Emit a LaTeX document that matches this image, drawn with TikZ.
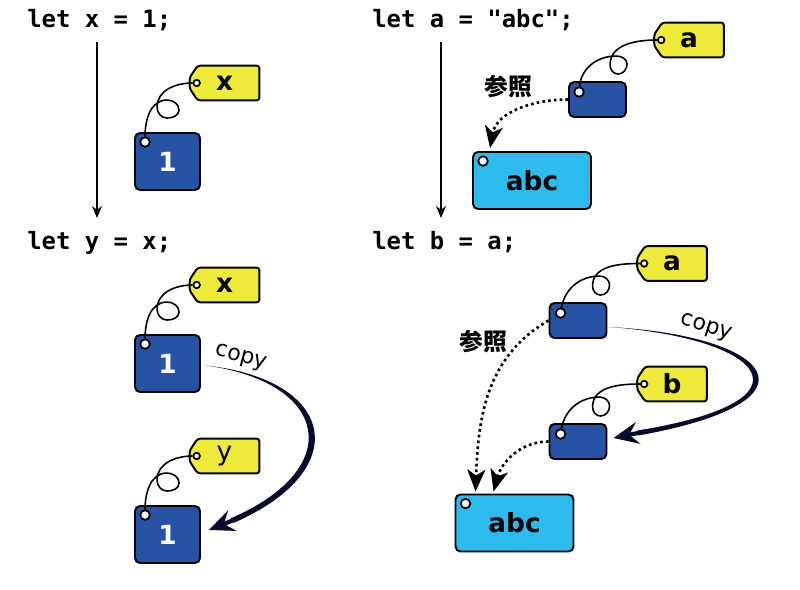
\documentclass[tikz,border=0pt]{standalone}
\usepackage{fontspec}
\setmainfont{DejaVu Sans}
\newfontfamily\codefont{DejaVu Sans Mono}
\newfontfamily\cjkfont{Noto Sans CJK JP}
\usepackage{tikz}
\usetikzlibrary{arrows.meta,calc,backgrounds}
\definecolor{tagyellow}{RGB}{238,234,58}
\definecolor{boxblue}{RGB}{38,83,163}
\definecolor{strcyan}{RGB}{44,187,236}
\definecolor{copynavy}{RGB}{10,10,42}

\begin{document}
\begin{tikzpicture}[x=0.02cm, y=-0.02cm,
     code/.style = {anchor=base west, inner sep=0pt,
                    font=\codefont\bfseries\fontsize{13.6}{16}\selectfont},
   varbox/.style = {draw, line width=1.1pt, rounded corners=0.1cm, fill=boxblue,
                    text=white, minimum width=1.3cm, minimum height=1.14cm,
                    font=\bfseries\fontsize{15}{17}\selectfont},
   refbox/.style = {varbox, minimum width=1.14cm, minimum height=0.7cm},
   strbox/.style = {varbox, fill=strcyan, text=black, minimum width=2.36cm,
                    font=\bfseries\fontsize{15}{17}\selectfont},
  nametag/.style = {rectangle, minimum width=1.38cm, minimum height=0.68cm,
                    inner sep=0pt, font=\bfseries\fontsize{15}{17}\selectfont},
  tagline/.style = {draw, line width=1.1pt, rounded corners=1.5pt, fill=tagyellow},
     hole/.style = {circle, draw, line width=1pt, fill=white, inner sep=0pt,
                    minimum size=0.19cm},
  taghole/.style = {hole, minimum size=0.13cm},
   string/.style = {line width=0.9pt},
 timeline/.style = {line width=0.6pt, -{Stealth[length=0.24cm,width=0.2cm]}},
 refarrow/.style = {line width=1.5pt, dash pattern=on 1.5pt off 1.8pt,
                    -{Stealth[length=0.44cm,width=0.36cm,inset=0.12cm]}},
 copyline/.style = {fill=copynavy},
 copyhead/.style = {draw=copynavy, line width=2.4pt,
                    -{Stealth[length=0.5cm,width=0.44cm,inset=0.18cm]}},
copylabel/.style = {font=\fontsize{12.5}{14}\selectfont, inner sep=0pt},
 reflabel/.style = {font=\cjkfont\bfseries\fontsize{13.5}{15}\selectfont, inner sep=0pt}
                    ]
\useasboundingbox (0,0) rectangle (800,590);

% code lines
\node[code] (c1) at (27,28)  {let x = 1;};
\node[code] (c2) at (372,28) {let a = "abc";};
\node[code] (c3) at (27,250) {let y = x;};
\node[code] (c4) at (372,250) {let b = a;};

\coordinate (l1s) at (97,42);  \coordinate (l1e) at (97,218);
\coordinate (l2s) at (441,42); \coordinate (l2e) at (441,218);
\draw[timeline] (l1s) -- (l1e);
\draw[timeline] (l2s) -- (l2e);

% let x = 1
\node[nametag] (tx1) at (224.5,83) {x};
\node[varbox]  (v1)  at (167.5,161.5) {1};
\node[hole]    (hv1) at ($(v1.north west)+(11,10)$) {};
\node[taghole] (ht1) at ($(tx1.west)+(7,0)$) {};
\draw[string] (hv1) to[out=90,in=180] ++(22,-42) to[out=0,in=90] ++(12,10)
    to[out=-90,in=0] ++(-12,8) to[out=180,in=-90] ++(-10,-11)
    to[out=90,in=180] (ht1);

% let a = "abc"
\node[nametag] (ta1) at (689,40) {a};
\node[refbox]  (r1)  at (597.5,99.5) {};
\node[strbox]  (s1)  at (532,180.5) {abc};
\node[hole]    (hr1) at ($(r1.north west)+(11,11)$) {};
\node[hole]    (hs1) at ($(s1.north west)+(11,10)$) {};
\node[taghole] (ht2) at ($(ta1.west)+(7,0)$) {};
\draw[string] (hr1) to[out=85,in=180] ++(37,-36) to[out=0,in=90] ++(11,8)
    to[out=-90,in=0] ++(-9,10) to[out=180,in=-90] ++(-8,-9)
    to[out=90,in=180] (ht2);
\coordinate (st1) at ($(s1.north west)+(18,-3)$);
\draw[refarrow] (r1.west) to[out=180,in=80] (st1);
\node[reflabel] (k1) at (508,87) {参照};

% let y = x
\node[nametag] (tx2) at (224.5,285) {x};
\node[varbox]  (v2)  at (167.5,363.5) {1};
\node[nametag, font=\fontsize{15}{17}\selectfont] (ty) at (224.5,456) {y};
\node[varbox]  (v3)  at (167.5,534.5) {1};
\node[hole]    (hv2) at ($(v2.north west)+(11,10)$) {};
\node[hole]    (hv3) at ($(v3.north west)+(11,10)$) {};
\node[taghole] (ht3) at ($(tx2.west)+(7,0)$) {};
\node[taghole] (ht4) at ($(ty.west)+(7,0)$) {};
\draw[string] (hv2) to[out=90,in=180] ++(22,-42) to[out=0,in=90] ++(12,10)
    to[out=-90,in=0] ++(-12,8) to[out=180,in=-90] ++(-10,-11)
    to[out=90,in=180] (ht3);
\draw[string] (hv3) to[out=90,in=180] ++(22,-42) to[out=0,in=90] ++(12,10)
    to[out=-90,in=0] ++(-12,8) to[out=180,in=-90] ++(-10,-11)
    to[out=90,in=180] (ht4);
\coordinate (ce1) at ($(v3.east)+(31,-13.8)$);
\coordinate (cp1) at ($(v3.east)+(8,-4.5)$);
\fill[copyline] ($(v2.east)+(5,2)$) .. controls +(130,14) and +(122,-53) .. ($(ce1)+(1.2,2.4)$)
    -- ($(ce1)+(-1.2,-2.4)$) .. controls +(116,-50) and +(123,17) .. ($(v2.east)+(5,2)$) -- cycle;
\draw[copyhead] (ce1) -- (cp1);
\node[copylabel, rotate=-15] (k2) at (241,358) {copy};

% let b = a
\node[nametag] (ta2) at (672,263.5) {a};
\node[refbox]  (r2)  at (578,320.5) {};
\node[nametag] (tb)  at (672,384) {b};
\node[refbox]  (r3)  at (578,441.5) {};
\node[strbox]  (s2)  at (514.5,523) {abc};
\node[hole]    (hr2) at ($(r2.north west)+(12,11)$) {};
\node[hole]    (hr3) at ($(r3.north west)+(12,11)$) {};
\node[hole]    (hs2) at ($(s2.north west)+(11,10)$) {};
\node[taghole] (ht5) at ($(ta2.west)+(7,0)$) {};
\node[taghole] (ht6) at ($(tb.west)+(7,0)$) {};
\draw[string] (hr2) to[out=80,in=180] ++(39,-37) to[out=0,in=90] ++(10,9)
    to[out=-90,in=0] ++(-9,10) to[out=180,in=-90] ++(-8,-9)
    to[out=90,in=180] (ht5);
\draw[string] (hr3) to[out=80,in=180] ++(39,-37) to[out=0,in=90] ++(10,9)
    to[out=-90,in=0] ++(-9,10) to[out=180,in=-90] ++(-8,-9)
    to[out=90,in=180] (ht6);
\coordinate (st2) at ($(s2.north west)+(21,-2)$);
\coordinate (st3) at ($(s2.north west)+(39,-2)$);
\draw[refarrow] (r2.west) to[out=210,in=88] (st2);
\draw[refarrow] (r3.west) to[out=180,in=75] (st3);
\node[reflabel] (k3) at (483,342) {参照};
\coordinate (ce2) at ($(r3.east)+(30.5,-8.5)$);
\coordinate (cp2) at ($(r3.east)+(6,-3.5)$);
\fill[copyline] ($(r2.east)+(1,6.5)$) .. controls +(162,8) and +(193,-35) .. ($(ce2)+(0.5,2.5)$)
    -- ($(ce2)+(-0.5,-2.5)$) .. controls +(186,-30) and +(155,11) .. ($(r2.east)+(1,6.5)$) -- cycle;
\draw[copyhead] (ce2) -- (cp2);
\node[copylabel, rotate=-18] (k4) at (706,328) {copy};

% tag outlines behind the labels
\begin{scope}[on background layer]
  \foreach \t in {tx1,ta1,tx2,ty,ta2,tb}
    \filldraw[tagline] (\t.north east) -- (\t.south east) -- ($(\t.south west)+(8,0)$)
      -- ($(\t.west)+(0,5.5)$) -- ($(\t.west)+(0,-5.5)$) -- ($(\t.north west)+(8,0)$) -- cycle;
\end{scope}
\end{tikzpicture}
\end{document}
